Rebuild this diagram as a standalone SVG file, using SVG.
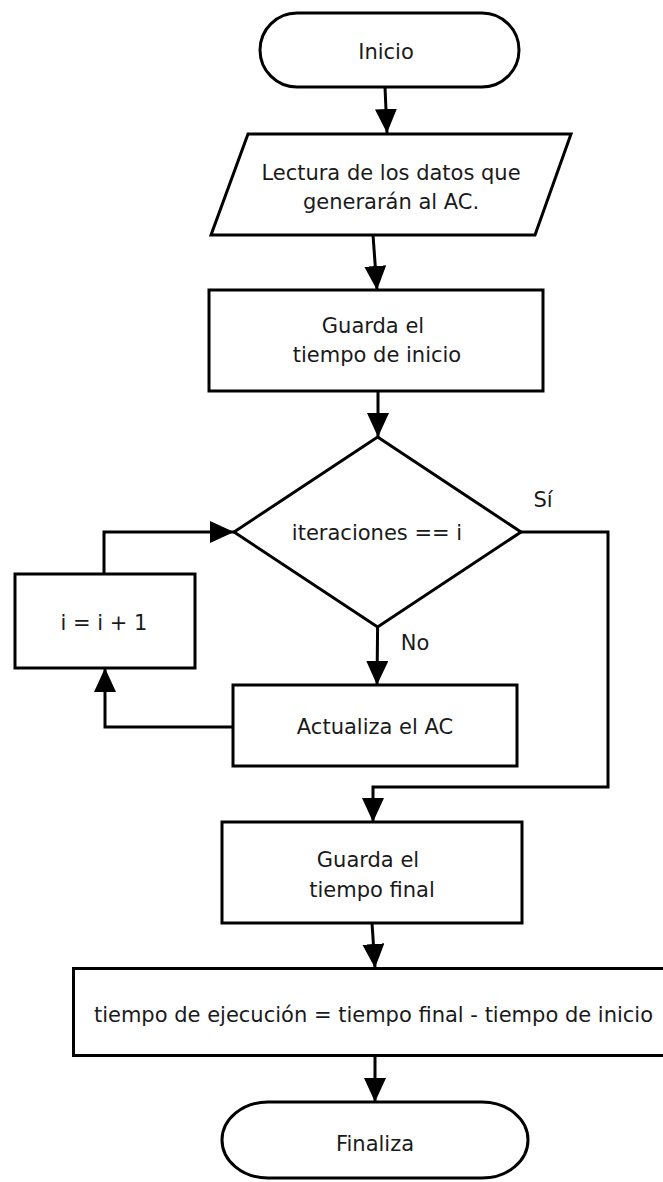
<svg xmlns="http://www.w3.org/2000/svg" width="663" height="1182" viewBox="0 0 663 1182">
<style>
.shape{fill:#fff;stroke:#000;stroke-width:3}
.t{font-family:"DejaVu Sans","Liberation Sans",sans-serif;font-size:21px;fill:#1a1a1a;text-anchor:middle}
.c{fill:none;stroke:#000;stroke-width:3;stroke-linejoin:miter}
</style>
<defs>
<marker id="ah" markerUnits="userSpaceOnUse" markerWidth="24" markerHeight="22" refX="24" refY="11" orient="auto">
<path d="M0,0 L24,11 L0,22 z" fill="#000"/>
</marker>
</defs>
<rect width="663" height="1182" fill="#fff"/>
<g id="connectors">
<path class="c" d="M385,87 L387,133" marker-end="url(#ah)"/>
<path class="c" d="M373,235 L377,290" marker-end="url(#ah)"/>
<path class="c" d="M378,391 L378,437" marker-end="url(#ah)"/>
<path class="c" d="M521,532 L608,532 L608,787 L373,787 L373,822" marker-end="url(#ah)"/>
<path class="c" d="M377.6,627 L377,685" marker-end="url(#ah)"/>
<path class="c" d="M233,727 L105,727 L105,668" marker-end="url(#ah)"/>
<path class="c" d="M104,574 L104,532 L234,532" marker-end="url(#ah)"/>
<path class="c" d="M372,923 L375,968" marker-end="url(#ah)"/>
<path class="c" d="M375,1055 L375,1102" marker-end="url(#ah)"/>
<text class="t" x="543" y="507">Sí</text>
<text class="t" x="415" y="650">No</text>
</g>
<g id="inicio">
<rect class="shape" x="260" y="13" width="259" height="74" rx="37" ry="37"/>
<text class="t" x="386" y="59">Inicio</text>
</g>
<g id="lectura">
<polygon class="shape" points="248,134 571,134 535,235 211,235"/>
<text class="t" x="391" y="180">Lectura de los datos que</text>
<text class="t" x="391" y="209">generarán al AC.</text>
</g>
<g id="guarda-inicio">
<rect class="shape" x="209" y="290" width="334" height="101"/>
<text class="t" x="373" y="333">Guarda el</text>
<text class="t" x="377" y="362">tiempo de inicio</text>
</g>
<g id="decision">
<polygon class="shape" points="377.6,437 521,532 377.6,627 234,532"/>
<text class="t" x="377" y="540">iteraciones == i</text>
</g>
<g id="incremento">
<rect class="shape" x="15" y="574" width="180" height="94"/>
<text class="t" x="104" y="630">i = i + 1</text>
</g>
<g id="actualiza">
<rect class="shape" x="233" y="685" width="284" height="81"/>
<text class="t" x="375" y="734">Actualiza el AC</text>
</g>
<g id="guarda-final">
<rect class="shape" x="222" y="822" width="300" height="101"/>
<text class="t" x="368" y="867">Guarda el</text>
<text class="t" x="372" y="897">tiempo final</text>
</g>
<g id="calculo">
<rect class="shape" x="73.5" y="968.5" width="600" height="87"/>
<text class="t" x="373.5" y="1022">tiempo de ejecución = tiempo final - tiempo de inicio</text>
</g>
<g id="finaliza">
<rect class="shape" x="222" y="1102" width="306" height="76" rx="46" ry="38"/>
<text class="t" x="375" y="1151">Finaliza</text>
</g>
</svg>
